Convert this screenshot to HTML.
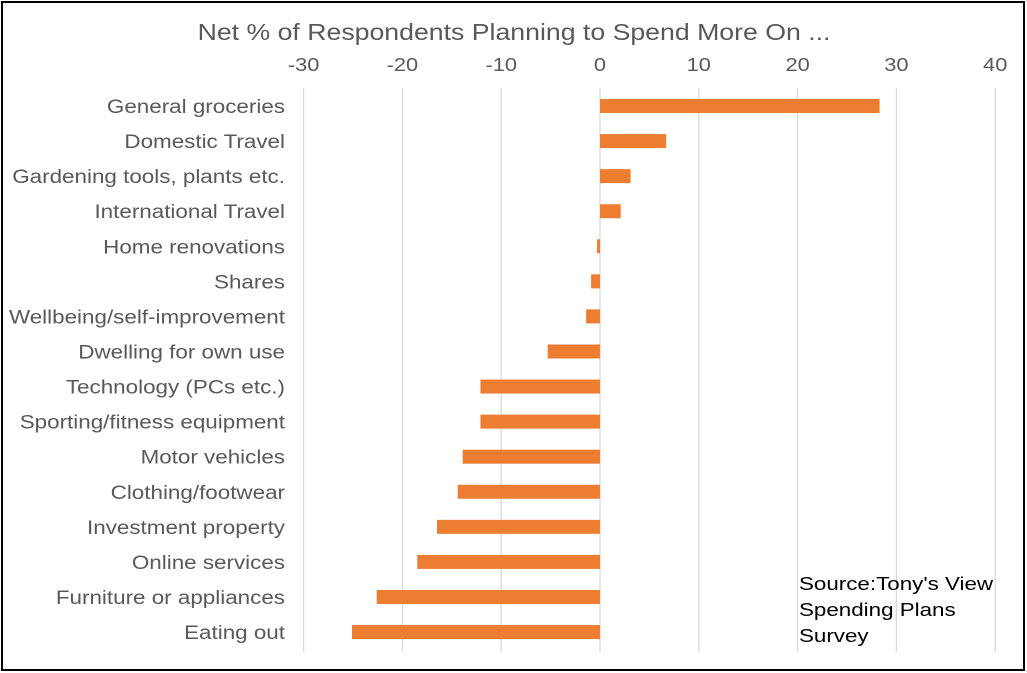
<!DOCTYPE html>
<html><head><meta charset="utf-8"><style>
html,body{margin:0;padding:0;background:#fff;}
svg{display:block;font-family:"Liberation Sans",Arial,sans-serif;}
</style></head><body>
<svg id="chart" width="1027" height="673">
<rect x="2" y="2" width="1022" height="668" fill="#fff" stroke="#000" stroke-width="2"/>
<g transform="translate(514,0) scale(1.16,1)"><text x="0" y="40" text-anchor="middle" font-size="23" fill="#595959">Net % of Respondents Planning to Spend More On ...</text></g>
<g id="grid"></g><g id="bars"></g><g id="labels" transform="translate(285,0) scale(1.18,1)"></g>
<g transform="translate(799,0) scale(1.21,1)"><text x="0" y="590" font-size="18.5" fill="#000"><tspan x="0">Source:Tony's View</tspan><tspan x="0" dy="26">Spending Plans</tspan><tspan x="0" dy="26">Survey</tspan></text></g>
</svg>
<script>
const categories=["General groceries","Domestic Travel","Gardening tools, plants etc.","International Travel","Home renovations","Shares","Wellbeing/self-improvement","Dwelling for own use","Technology (PCs etc.)","Sporting/fitness equipment","Motor vehicles","Clothing/footwear","Investment property","Online services","Furniture or appliances","Eating out"];
const values=[28.3,6.7,3.1,2.1,-0.3,-0.9,-1.4,-5.3,-12.1,-12.1,-13.9,-14.4,-16.5,-18.5,-22.6,-25.1];
const ticks=[-30,-20,-10,0,10,20,30,40];
const NS="http://www.w3.org/2000/svg";
const x=v=>600+v*9.88;
const y=i=>106+i*35.07;
const grid=document.getElementById('grid'),bars=document.getElementById('bars'),labels=document.getElementById('labels');
ticks.forEach(t=>{
 const l=document.createElementNS(NS,'line');
 l.setAttribute('x1',x(t));l.setAttribute('x2',x(t));l.setAttribute('y1',88);l.setAttribute('y2',652);
 l.setAttribute('stroke','#d9d9d9');l.setAttribute('stroke-width','1.3');
 
 
 grid.appendChild(l);
 const g=document.createElementNS(NS,'g');
 g.setAttribute('transform','translate('+x(t)+',0) scale(1.18,1)');
 const tx=document.createElementNS(NS,'text');
 tx.setAttribute('x',0);tx.setAttribute('y',71);tx.setAttribute('text-anchor','middle');
 tx.setAttribute('font-size','18.5');tx.setAttribute('fill','#595959');tx.textContent=t;
 
 
 g.appendChild(tx);grid.appendChild(g);
});
categories.forEach((c,i)=>{
 const v=values[i];
 const r=document.createElementNS(NS,'rect');
 r.setAttribute('x',Math.min(x(0),x(v)));r.setAttribute('width',Math.abs(x(v)-x(0)));
 r.setAttribute('y',y(i)-7);r.setAttribute('height',14);r.setAttribute('fill','#ed7d31');
 
 
 bars.appendChild(r);
 const t=document.createElementNS(NS,'text');
 t.setAttribute('x',0);t.setAttribute('y',y(i)+7);t.setAttribute('text-anchor','end');
 t.setAttribute('font-size','19');t.setAttribute('fill','#595959');t.textContent=c;
 
 
 labels.appendChild(t);
});
</script>
</body></html>
